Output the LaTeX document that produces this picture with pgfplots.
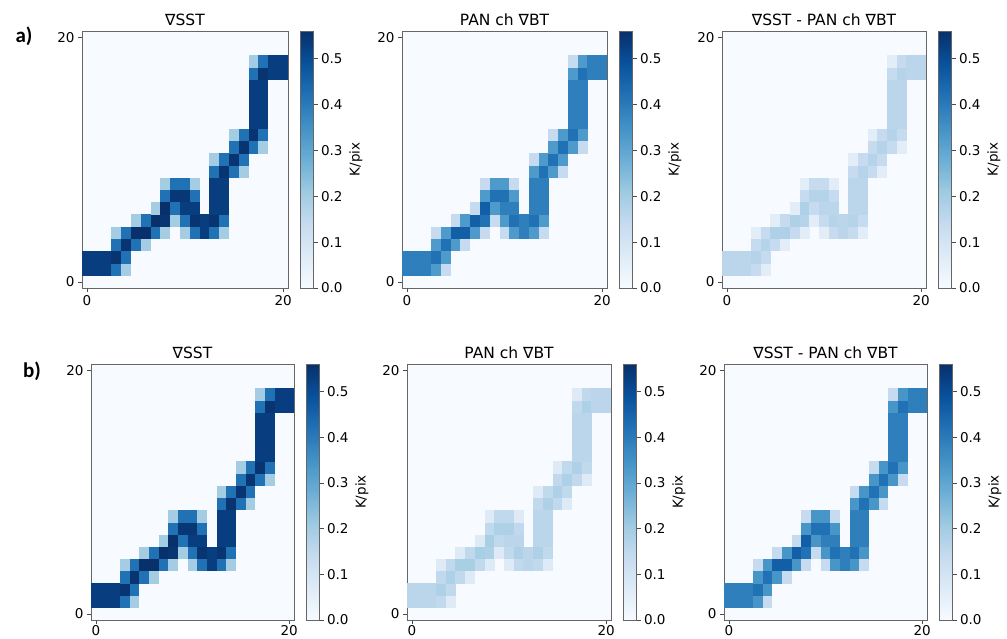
\documentclass[border=0pt]{standalone}
\usepackage{fontspec}
\setmainfont{DejaVu Sans}
\newfontfamily\carlito{Carlito}
\usepackage{pgfplots}
\usepackage{pgfplotstable}
\pgfplotsset{compat=1.18}
\pgfkeys{/pgf/number format/assume math mode=true}

\definecolor{bg}{RGB}{247,251,255}
\pgfplotsset{
  colormap={blues}{rgb255=(247,251,255) rgb255=(222,235,247) rgb255=(198,219,239) rgb255=(158,202,225) rgb255=(107,174,214) rgb255=(66,146,198) rgb255=(33,113,181) rgb255=(8,81,156) rgb255=(8,48,107)}
}

\pgfdeclareplotmark{cellA}{\pgfpathrectangle{\pgfpoint{-5.0pt}{-6.25pt}}{\pgfpoint{10.0pt}{12.5pt}}\pgfusepathqfill}
\pgfdeclareplotmark{cellB}{\pgfpathrectangle{\pgfpoint{-4.95pt}{-6.22pt}}{\pgfpoint{9.9pt}{12.45pt}}\pgfusepathqfill}

% x y and the value (K/pix) in each of the six panels
\pgfplotstableread{
x y a1 a2 a3 b1 b2 b3
0 1 0.53 0.39 0.16 0.53 0.16 0.39
1 1 0.53 0.39 0.16 0.53 0.16 0.39
2 1 0.53 0.39 0.16 0.53 0.16 0.39
3 1 0.42 0.33 0.14 0.42 0.15 0.34
4 1 0.20 0.14 0.06 0.20 0.07 0.14
0 2 0.53 0.39 0.16 0.53 0.16 0.39
1 2 0.53 0.39 0.16 0.53 0.16 0.39
2 2 0.53 0.39 0.16 0.53 0.16 0.39
3 2 0.55 0.42 0.17 0.55 0.18 0.42
4 2 0.42 0.33 0.14 0.42 0.15 0.34
3 3 0.42 0.33 0.14 0.42 0.15 0.34
4 3 0.55 0.42 0.17 0.55 0.18 0.42
5 3 0.42 0.33 0.14 0.42 0.15 0.34
6 3 0.20 0.14 0.06 0.20 0.07 0.14
3 4 0.20 0.14 0.06 0.20 0.07 0.14
4 4 0.42 0.33 0.14 0.42 0.15 0.34
5 4 0.56 0.46 0.18 0.56 0.19 0.46
6 4 0.56 0.46 0.18 0.56 0.19 0.46
7 4 0.42 0.33 0.14 0.42 0.15 0.34
8 4 0.20 0.14 0.06 0.20 0.07 0.14
10 4 0.20 0.14 0.06 0.20 0.07 0.14
11 4 0.42 0.33 0.14 0.42 0.15 0.34
12 4 0.53 0.39 0.16 0.53 0.16 0.39
13 4 0.42 0.33 0.14 0.42 0.15 0.34
14 4 0.20 0.14 0.06 0.20 0.07 0.14
5 5 0.20 0.14 0.06 0.20 0.07 0.14
6 5 0.42 0.33 0.14 0.42 0.15 0.34
7 5 0.56 0.46 0.18 0.56 0.19 0.46
8 5 0.55 0.42 0.17 0.55 0.18 0.42
9 5 0.20 0.14 0.06 0.20 0.07 0.14
10 5 0.42 0.33 0.14 0.42 0.15 0.34
11 5 0.55 0.42 0.17 0.55 0.18 0.42
12 5 0.53 0.39 0.16 0.53 0.16 0.39
13 5 0.55 0.42 0.17 0.55 0.18 0.42
14 5 0.42 0.33 0.14 0.42 0.15 0.34
7 6 0.20 0.14 0.06 0.20 0.07 0.14
8 6 0.56 0.46 0.18 0.56 0.19 0.46
9 6 0.42 0.33 0.14 0.42 0.15 0.34
10 6 0.53 0.39 0.16 0.53 0.16 0.39
11 6 0.53 0.39 0.16 0.53 0.16 0.39
13 6 0.53 0.39 0.16 0.53 0.16 0.39
14 6 0.53 0.39 0.16 0.53 0.16 0.39
8 7 0.42 0.33 0.14 0.42 0.15 0.34
9 7 0.545 0.42 0.17 0.545 0.18 0.42
10 7 0.545 0.42 0.17 0.545 0.18 0.42
11 7 0.42 0.33 0.14 0.42 0.15 0.34
13 7 0.53 0.39 0.16 0.53 0.16 0.39
14 7 0.53 0.39 0.16 0.53 0.16 0.39
8 8 0.20 0.14 0.06 0.20 0.07 0.14
9 8 0.42 0.33 0.14 0.42 0.15 0.34
10 8 0.42 0.33 0.14 0.42 0.15 0.34
11 8 0.20 0.14 0.06 0.20 0.07 0.14
13 8 0.53 0.39 0.16 0.53 0.16 0.39
14 8 0.53 0.39 0.16 0.53 0.16 0.39
13 9 0.42 0.33 0.14 0.42 0.15 0.34
14 9 0.55 0.42 0.17 0.55 0.18 0.42
15 9 0.42 0.33 0.14 0.42 0.15 0.34
16 9 0.20 0.14 0.06 0.20 0.07 0.14
13 10 0.20 0.14 0.06 0.20 0.07 0.14
14 10 0.42 0.33 0.14 0.42 0.15 0.34
15 10 0.55 0.42 0.17 0.55 0.18 0.42
16 10 0.42 0.33 0.14 0.42 0.15 0.34
15 11 0.42 0.33 0.14 0.42 0.15 0.34
16 11 0.55 0.42 0.17 0.55 0.18 0.42
17 11 0.42 0.33 0.14 0.42 0.15 0.34
18 11 0.20 0.14 0.06 0.20 0.07 0.14
15 12 0.20 0.14 0.06 0.20 0.07 0.14
16 12 0.42 0.33 0.14 0.42 0.15 0.34
17 12 0.55 0.42 0.17 0.55 0.18 0.42
18 12 0.42 0.33 0.14 0.42 0.15 0.34
17 13 0.53 0.39 0.16 0.53 0.16 0.39
18 13 0.53 0.39 0.16 0.53 0.16 0.39
17 14 0.53 0.39 0.16 0.53 0.16 0.39
18 14 0.53 0.39 0.16 0.53 0.16 0.39
17 15 0.53 0.39 0.16 0.53 0.16 0.39
18 15 0.53 0.39 0.16 0.53 0.16 0.39
17 16 0.53 0.39 0.16 0.53 0.16 0.39
18 16 0.53 0.39 0.16 0.53 0.16 0.39
17 17 0.42 0.33 0.14 0.42 0.15 0.34
18 17 0.55 0.42 0.17 0.55 0.18 0.42
19 17 0.53 0.39 0.16 0.53 0.16 0.39
20 17 0.53 0.39 0.16 0.53 0.16 0.39
17 18 0.20 0.14 0.06 0.20 0.07 0.14
18 18 0.42 0.33 0.14 0.42 0.15 0.34
19 18 0.53 0.39 0.16 0.53 0.16 0.39
20 18 0.53 0.39 0.16 0.53 0.16 0.39
}\cells

\newcommand{\fs}{\fontsize{13.5}{15}\selectfont}
\newcommand{\ft}{\fontsize{15.5}{17}\selectfont}

\pgfplotsset{
  hm/.style={
    scale only axis,
    xmin=-0.5, xmax=20.5, ymin=-0.5, ymax=20.5,
    xtick={0,20}, ytick={0,20},
    tick align=outside, xtick pos=bottom, ytick pos=left,
    major tick length=4pt,
    axis line style={black!60},
    tick style={black!70, line width=0.6pt},
    ticklabel style={font=\fs},
    title style={font=\ft, yshift=-4pt},
    colormap name=blues,
    point meta min=0, point meta max=0.56,
    axis background/.style={fill=bg},
    colorbar,
    colorbar style={
      at={(parent axis.north east)}, anchor=north west, xshift=3.5pt,
      width=13.5pt,
      ytick={0,0.1,0.2,0.3,0.4,0.5},
      ytick pos=right, yticklabel pos=right,
      tick align=outside,
      major tick length=4pt,
      tick style={black!70, line width=0.6pt},
      axis line style={black!60},
      yticklabel style={font=\fs, /pgf/number format/.cd, fixed, fixed zerofill, precision=1},
      ylabel={K/pix},
      ylabel style={font=\fs},
    },
  },
  rowA/.style={hm, height=257pt},
  rowB/.style={hm, height=256pt, xticklabel style={yshift=2.5pt}},
}

\begin{document}
\begin{tikzpicture}
\useasboundingbox (0pt,0pt) rectangle (1007pt,-639pt);

\node[font=\carlito\bfseries\fontsize{21}{21}\selectfont] at (24pt,-36pt) {a)};
\node[font=\carlito\bfseries\fontsize{21}{21}\selectfont] at (32pt,-371pt) {b)};

% ---- row a ----
\begin{axis}[rowA, width=206pt, at={(82pt,-288pt)}, anchor=south west, title={∇SST}]
\addplot[scatter, only marks, mark=cellA, scatter src=explicit] table[x=x, y=y, meta=a1] {\cells};
\end{axis}
\begin{axis}[rowA, width=205pt, at={(402pt,-288pt)}, anchor=south west, title={PAN ch ∇BT}]
\addplot[scatter, only marks, mark=cellA, scatter src=explicit] table[x=x, y=y, meta=a2] {\cells};
\end{axis}
\begin{axis}[rowA, width=204pt, at={(722pt,-288pt)}, anchor=south west, title={∇SST - PAN ch ∇BT}]
\addplot[scatter, only marks, mark=cellA, scatter src=explicit] table[x=x, y=y, meta=a3] {\cells};
\end{axis}

% ---- row b ----
\begin{axis}[rowB, width=203pt, at={(91pt,-620pt)}, anchor=south west, title={∇SST}]
\addplot[scatter, only marks, mark=cellB, scatter src=explicit] table[x=x, y=y, meta=b1] {\cells};
\end{axis}
\begin{axis}[rowB, width=204pt, at={(407pt,-620pt)}, anchor=south west, title={PAN ch ∇BT}]
\addplot[scatter, only marks, mark=cellB, scatter src=explicit] table[x=x, y=y, meta=b2] {\cells};
\end{axis}
\begin{axis}[rowB, width=203pt, at={(724pt,-620pt)}, anchor=south west, title={∇SST - PAN ch ∇BT}]
\addplot[scatter, only marks, mark=cellB, scatter src=explicit] table[x=x, y=y, meta=b3] {\cells};
\end{axis}
\end{tikzpicture}
\end{document}
